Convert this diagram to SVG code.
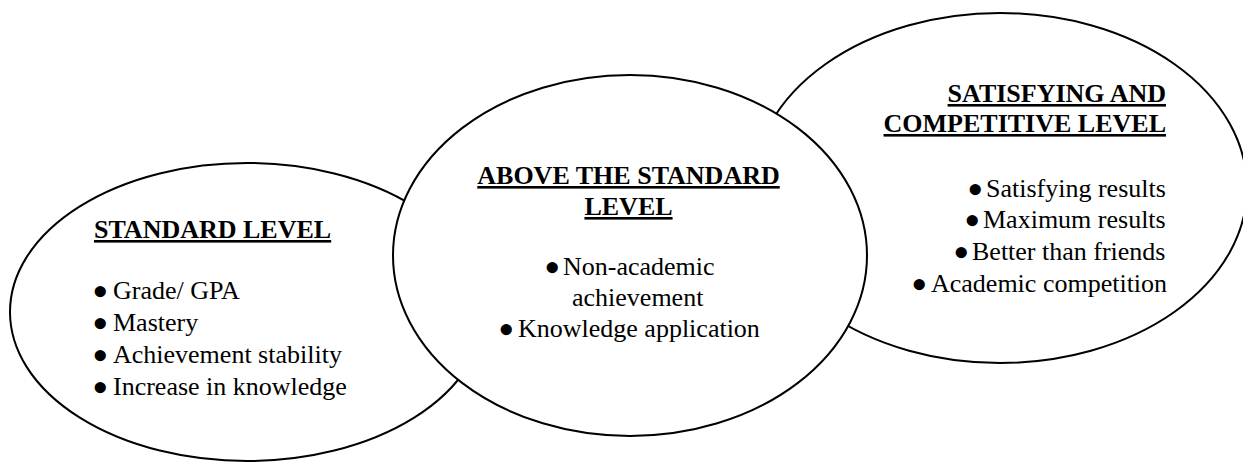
<svg xmlns="http://www.w3.org/2000/svg" width="1243" height="462" viewBox="0 0 1243 462">
<style>
.shape{fill:#fff;stroke:#000;stroke-width:2}
text{font-family:'Liberation Serif','Times New Roman',Times,serif;font-size:26px;fill:#000}
.h{font-weight:bold;text-decoration:underline}
.b{font-size:47px}
.e{text-anchor:end}
.m{text-anchor:middle}
</style>
<rect width="1243" height="462" fill="#fff"/>
<g id="standard-level">
<ellipse class="shape" cx="247" cy="312" rx="237" ry="149"/>
<text class="h" x="94" y="238">STANDARD LEVEL</text>
<text x="92" y="307"><tspan class="b">•</tspan><tspan x="113" dy="-8">Grade/ GPA</tspan></text>
<text x="92" y="339"><tspan class="b">•</tspan><tspan x="113" dy="-8">Mastery</tspan></text>
<text x="92" y="371"><tspan class="b">•</tspan><tspan x="113" dy="-8">Achievement stability</tspan></text>
<text x="92" y="403"><tspan class="b">•</tspan><tspan x="113" dy="-8">Increase in knowledge</tspan></text>
</g>
<g id="satisfying-competitive-level">
<ellipse class="shape" cx="1000" cy="188" rx="247" ry="175"/>
<text class="h e" x="1166" y="102">SATISFYING AND</text>
<text class="h e" x="1166" y="132">COMPETITIVE LEVEL</text>
<text x="967" y="205"><tspan class="b">•</tspan><tspan x="986" dy="-8">Satisfying results</tspan></text>
<text x="964" y="236"><tspan class="b">•</tspan><tspan x="983" dy="-8">Maximum results</tspan></text>
<text x="953" y="268"><tspan class="b">•</tspan><tspan x="972" dy="-8">Better than friends</tspan></text>
<text x="911" y="300"><tspan class="b">•</tspan><tspan x="931" dy="-8">Academic competition</tspan></text>
</g>
<g id="above-standard-level">
<ellipse class="shape" cx="630" cy="255.5" rx="237" ry="180.5"/>
<text class="h m" x="628.5" y="184">ABOVE THE STANDARD</text>
<text class="h m" x="628.5" y="215">LEVEL</text>
<text x="544" y="283"><tspan class="b">•</tspan><tspan x="563" dy="-8">Non-academic</tspan></text>
<text x="572" y="306">achievement</text>
<text x="498" y="345"><tspan class="b">•</tspan><tspan x="518" dy="-8">Knowledge application</tspan></text>
</g>
</svg>
